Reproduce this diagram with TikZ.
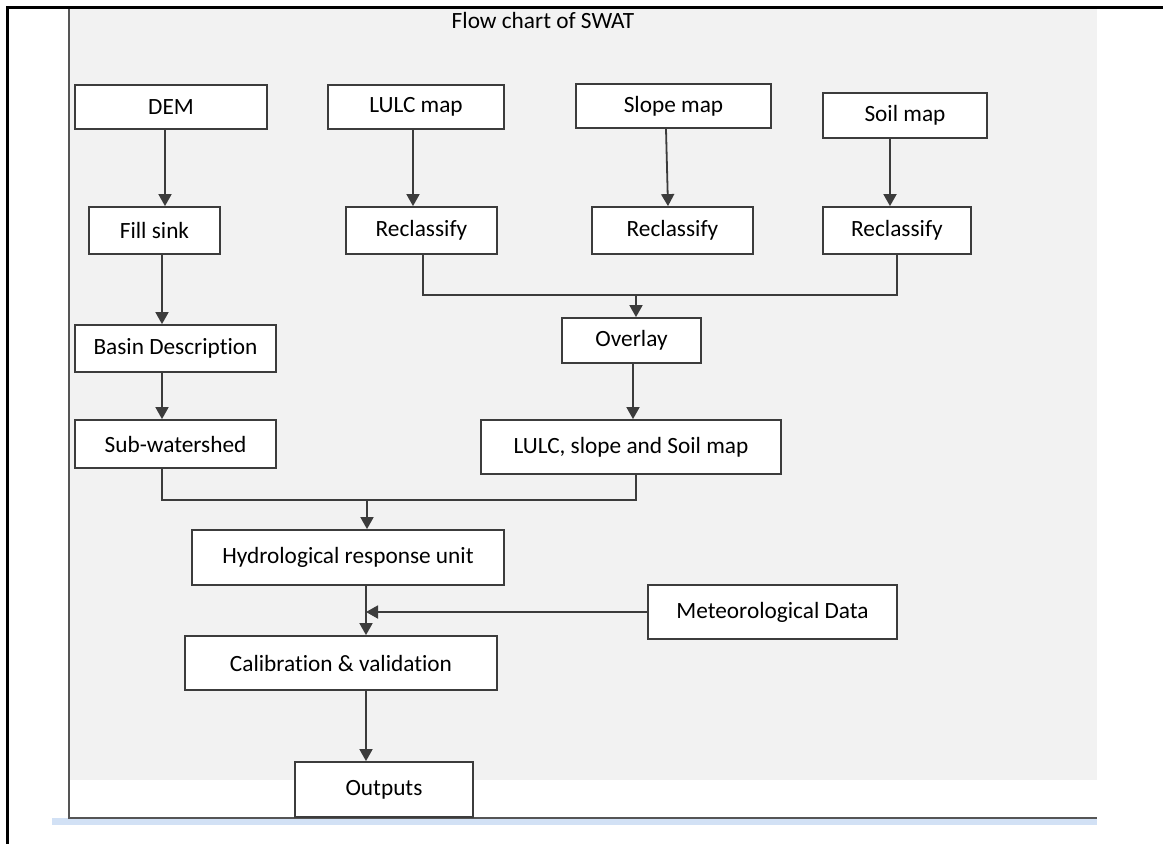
\documentclass[tikz,border=0pt]{standalone}
\usepackage{fontspec}
\setmainfont{Carlito}[Ligatures=NoCommon]
\definecolor{swatGray}{HTML}{F2F2F2}
\definecolor{swatEdge}{HTML}{3C3C3C}
\definecolor{swatRule}{HTML}{555555}
\definecolor{swatBlue}{HTML}{D2E1F5}
\usepackage{tikz}
\usetikzlibrary{arrows.meta}
\tikzset{
	texto/.style={
		font=\fontsize{23.3}{28}\selectfont,
		inner sep=0pt
	},
	caja/.style={
		texto,
		draw=swatEdge,
		line width=1.8pt,
		fill=white,
		align=center
	},
	linea/.style={
		line width=1.8pt,
		swatEdge
	},
	flecha/.style={
		linea,
		-{Triangle[length=12pt,width=13pt]}
	}
}
\begin{document}
\begin{tikzpicture}[x=1pt,y=-1pt]
		\useasboundingbox (0,0) rectangle (1163,844);
		\fill[swatGray] (70,9) rectangle (1097,780);
		\fill[swatBlue] (52,818) rectangle (1097,825);
		\draw[line width=1.8pt, swatRule] (69,9) -- (69,818) -- (1097,818);
		\draw[line width=3pt, black] (7,844) -- (7,7) -- (1163,7);
		\node[texto] (titulo) at (543,20) {Flow chart of SWAT};
		\node[caja, minimum width=192pt, minimum height=44pt] (dem) at (171,107) {DEM};
		\node[caja, minimum width=176pt, minimum height=44pt] (lulc) at (416,107) {LULC map};
		\node[caja, minimum width=195pt, minimum height=44pt] (pendiente) at (673.5,106) {Slope map};
		\node[caja, minimum width=164pt, minimum height=45pt] (suelo) at (905,115.5) {Soil map};
		\node[caja, minimum width=131pt, minimum height=47pt] (relleno) at (154.5,230.5) {Fill sink};
		\node[caja, minimum width=151pt, minimum height=47pt] (reclasA) at (421.5,230.5) {Reclassify};
		\node[caja, minimum width=161pt, minimum height=47pt] (reclasB) at (672.5,230.5) {Reclassify};
		\node[caja, minimum width=148pt, minimum height=47pt] (reclasC) at (897,230.5) {Reclassify};
		\node[caja, minimum width=139pt, minimum height=45pt] (overlay) at (631.5,340.5) {Overlay};
		\node[caja, minimum width=201pt, minimum height=47pt] (cuenca) at (175.5,348.5) {Basin Description};
		\node[caja, minimum width=201pt, minimum height=48pt] (subcuenca) at (175.5,444) {Sub-watershed};
		\node[caja, minimum width=300pt, minimum height=54pt] (mapas) at (631,447) {LULC, slope and Soil map};
		\node[caja, minimum width=312pt, minimum height=55pt] (hru) at (348,557.5) {Hydrological response unit};
		\node[caja, minimum width=249pt, minimum height=54pt] (meteo) at (772.5,612) {Meteorological Data};
		\node[caja, minimum width=312pt, minimum height=54pt] (calib) at (341,663) {Calibration \& validation};
		\node[caja, minimum width=178pt, minimum height=55pt] (salidas) at (384,789.5) {Outputs};
		\coordinate (unionA) at (636,295);
		\coordinate (unionB) at (367,500);
		\coordinate (eje) at ([xshift=25pt]calib.north);
		\draw[flecha] ([xshift=-6pt]dem.south) -- ([xshift=10.5pt]relleno.north);
		\draw[flecha] ([xshift=7.5pt]relleno.south) -- ([xshift=-13.5pt]cuenca.north);
		\draw[flecha] ([xshift=-13.5pt]cuenca.south) -- ([xshift=-13.5pt]subcuenca.north);
		\draw[flecha] ([xshift=-3pt]lulc.south) -- ([xshift=-8.5pt]reclasA.north);
		\draw[flecha] ([xshift=-7.5pt]pendiente.south) -- ([xshift=-4.5pt]reclasB.north);
		\draw[flecha] ([xshift=-15pt]suelo.south) -- ([xshift=-7pt]reclasC.north);
		\draw[linea] ([xshift=1.5pt]reclasA.south) |- (unionA) -| (reclasC.south);
		\draw[flecha] (unionA) -- ([xshift=4.5pt]overlay.north);
		\draw[flecha] ([xshift=1.5pt]overlay.south) -- ([xshift=2pt]mapas.north);
		\draw[linea] ([xshift=-13.5pt]subcuenca.south) |- (unionB) -| ([xshift=5pt]mapas.south);
		\draw[flecha] (unionB) -- ([xshift=19pt]hru.north);
		\draw[flecha] ([xshift=18pt]hru.south) -- (eje);
		\draw[flecha] (meteo.west) -- (meteo.west -| eje);
		\draw[flecha] ([xshift=25pt]calib.south) -- ([xshift=-18pt]salidas.north);
	\end{tikzpicture}
\end{document}
